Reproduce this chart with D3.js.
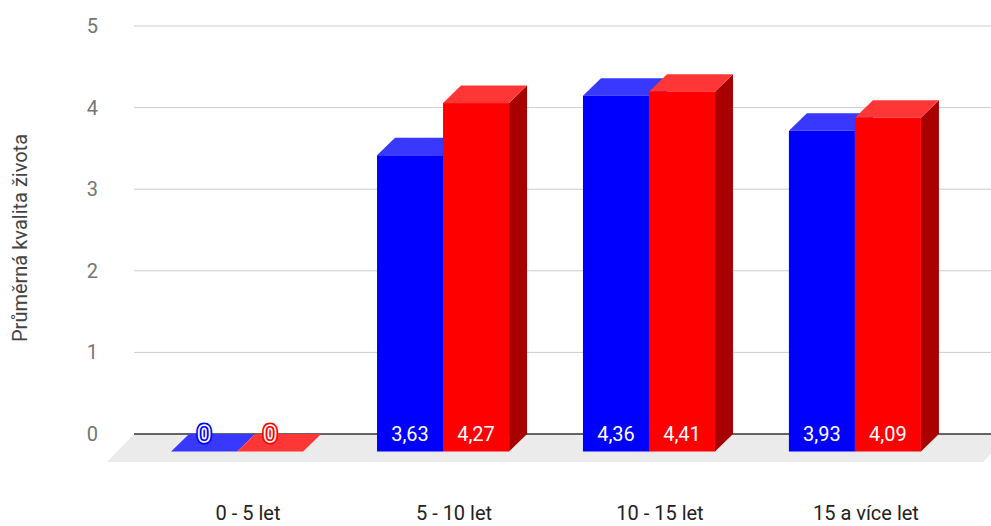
<!DOCTYPE html>
<html><head><meta charset="utf-8">
<script src="https://cdn.jsdelivr.net/npm/d3@7"></script>
<style>
html,body{margin:0;padding:0;background:#fff;}
svg{display:block;font-family:Roboto,"Noto Sans",sans-serif;}
</style></head>
<body>
<svg id="chart" width="991" height="526"></svg>
<script>
const categories = ["0 - 5 let", "5 - 10 let", "10 - 15 let", "15 a více let"];
const seriesNames = ["A", "B"];
const seriesA = [0, 3.63, 4.36, 3.93];
const seriesB = [0, 4.27, 4.41, 4.09];
const yTicks = [0, 1, 2, 3, 4, 5];
const yTitle = "Průměrná kvalita života";

const colors = {
  A: {front: "#0000ff", top: "#3838ff", side: "#0000a8"},
  B: {front: "#ff0000", top: "#ff3636", side: "#a80000"}
};
const values = {A: seriesA, B: seriesB};

const svg = d3.select("#chart");
const W = 991, H = 526;
const DX = 18, DY = 17.5;           // bar depth offset
const FDX = 27, FDY = 28;           // floor depth offset
const backLeft = 134, backRight = 1010;

const yBack = d3.scaleLinear().domain([0, 5]).range([434, 26]);
const yFront = v => yBack(v) + DY;

const x = d3.scaleBand().domain(categories).range([134, 958])
  .paddingInner(0.359).paddingOuter(0.18);
const xs = d3.scaleBand().domain(seriesNames).range([0, x.bandwidth()]);

const fmt = v => d3.format(".2f")(v).replace(".", ",");

// floor
const z = yBack(0);
svg.append("path")
  .attr("d", `M${backLeft},${z} L${backRight},${z} L${backRight - FDX},${z + FDY} L${backLeft - FDX},${z + FDY} Z`)
  .attr("fill", "#ebebeb");

// gridlines
svg.append("g").selectAll("line").data(yTicks.filter(t => t !== 0)).join("line")
  .attr("x1", backLeft).attr("x2", W)
  .attr("y1", d => yBack(d)).attr("y2", d => yBack(d))
  .attr("stroke", "#cccccc").attr("stroke-width", 1);

// zero line
svg.append("line").attr("x1", backLeft).attr("x2", W)
  .attr("y1", z).attr("y2", z).attr("stroke", "#333").attr("stroke-width", 1.6);

// tick labels
svg.append("g").selectAll("text").data(yTicks).join("text")
  .attr("x", 98).attr("y", d => yBack(d))
  .attr("dy", "0.35em").attr("text-anchor", "end")
  .attr("font-size", 20).attr("fill", "#757575")
  .text(d => d);

// y title
svg.append("text")
  .attr("transform", `translate(27,${238}) rotate(-90)`)
  .attr("text-anchor", "middle").attr("font-size", 20).attr("fill", "#444")
  .text(yTitle);

// bars
const bars = svg.append("g");
categories.forEach((c, i) => {
  seriesNames.forEach(s => {
    const v = values[s][i];
    const x0 = x(c) + xs(s), x1 = x0 + xs.bandwidth();
    const yb = yFront(0), yt = yFront(v);
    const col = colors[s];
    const g = bars.append("g");
    if (v > 0) {
      g.append("path").attr("d",
        `M${x1},${yt} L${x1 + DX},${yt - DY} L${x1 + DX},${yb - DY} L${x1},${yb} Z`)
        .attr("fill", col.side);
    }
    g.append("path").attr("d",
      `M${x0},${yt} L${x0 + DX},${yt - DY} L${x1 + DX},${yt - DY} L${x1},${yt} Z`)
      .attr("fill", col.top);
    if (v > 0) {
      g.append("rect").attr("x", x0).attr("y", yt)
        .attr("width", x1 - x0).attr("height", yb - yt).attr("fill", col.front);
    }
  });
});

// value labels
categories.forEach((c, i) => {
  seriesNames.forEach(s => {
    const v = values[s][i];
    const cx = x(c) + xs(s) + xs.bandwidth() / 2;
    const txt = v === 0 ? "0" : fmt(v);
    const add = () => svg.append("text")
      .attr("x", cx).attr("y", yFront(0) - 11)
      .attr("text-anchor", "middle").attr("font-size", 20)
      .attr("stroke-linejoin", "round")
      .text(txt);
    if (v === 0) {
      add().attr("fill", colors[s].front).attr("stroke", colors[s].front).attr("stroke-width", 7);
      add().attr("fill", colors[s].front).attr("stroke", "#fff").attr("stroke-width", 3.5)
        .attr("paint-order", "stroke");
    } else {
      add().attr("fill", "#fff");
    }
  });
});

// category labels
svg.append("g").selectAll("text").data(categories).join("text")
  .attr("x", d => x(d) + x.bandwidth() / 2 + DX / 2 + 2)
  .attr("y", 520).attr("text-anchor", "middle")
  .attr("font-size", 20).attr("fill", "#222")
  .text(d => d);
</script>
</body></html>
